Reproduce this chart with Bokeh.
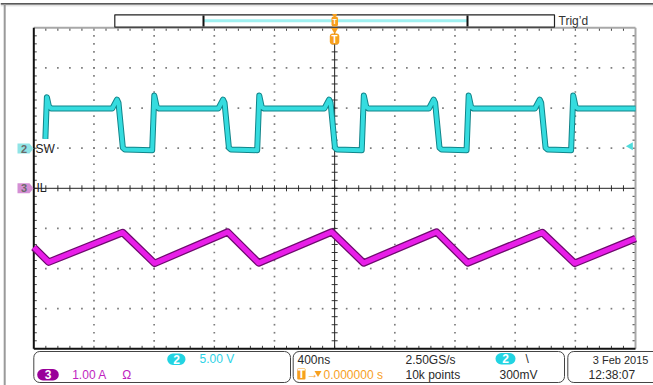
import numpy as np
from bokeh.plotting import figure
from bokeh.models import Range1d
from bokeh.core.properties import value
from bokeh.embed import file_html
from bokeh.resources import INLINE

# ---------------- data ----------------
# Channel 2 "SW" switch-node voltage: vertex times (ns) and volts
SW_T = [-1923, -1913, -1900, -1885,
        -1478, -1447, -1437, -1408, -1395,
        -1213, -1199, -1183, -1168,
        -773, -742, -732, -703, -690,
        -515, -501, -485, -470,
        -68, -37, -27, 2, 15,
        180, 194, 210, 225,
        627, 658, 668, 697, 710,
        877, 891, 907, 922,
        1332, 1363, 1373, 1402, 1415,
        1572, 1586, 1602, 1617,
        2000]
SW_V = [1.2, 6.4, 5.3, 5.0,
        5.0, 6.1, 5.7, 0.1, -0.1,
        -0.2, 6.6, 5.2, 5.0,
        5.0, 6.1, 5.7, 0.1, -0.1,
        -0.2, 6.6, 5.2, 5.0,
        5.0, 6.1, 5.7, 0.1, -0.1,
        -0.2, 6.6, 5.2, 5.0,
        5.0, 6.1, 5.7, 0.1, -0.1,
        -0.2, 6.6, 5.2, 5.0,
        5.0, 6.1, 5.7, 0.1, -0.1,
        -0.2, 6.6, 5.2, 5.0,
        5.0]

# Channel 3 "IL" inductor current: vertex times (ns) and amps
IL_T = [-2000, -1901, -1409, -1197, -711, -505, -20, 193, 678, 884, 1381, 1596, 2000]
IL_A = [-1.47, -1.84, -1.10, -1.87, -1.09, -1.86, -1.09, -1.86, -1.09, -1.86, -1.10, -1.87, -1.25]

# scope settings
TIME_PER_DIV_NS = 400
X_DIVS = 10
Y_DIVS = 8
SW_VOLTS_PER_DIV = 5.0
IL_AMPS_PER_DIV = 1.0
SW_OFFSET_DIV = 0.99
IL_OFFSET_DIV = 0.0
TRIG_LEVEL_V = 0.3

# readout texts
CH2_NAME = "SW"
CH3_NAME = "IL"
CH2_SCALE = "5.00 V"
CH3_SCALE = "1.00 A"
CH3_IMP = "\u03a9"
TIMEBASE = "400ns"
SAMPLE_RATE = "2.50GS/s"
RECORD = "10k points"
TRIG_SLOPE = "\\"
TRIG_LEVEL_TXT = "300mV"
TRIG_POS = "0.000000 s"
DATE_TXT = "3 Feb  2015"
TIME_TXT = "12:38:07"
TRIG_STATE = "Trig\u2019d"

# ---------------- layout ----------------
W, H, OFF = 653, 385, 0
GX0, GX1, GY0, GY1 = 33.3, 635.0, 27.3, 348.3
ns_per_px = X_DIVS * TIME_PER_DIV_NS / (GX1 - GX0)
div_per_px = Y_DIVS / (GY1 - GY0)
cxw = (GX0 + GX1) / 2
cyw = (GY0 + GY1) / 2


def X(xw):
    return (xw - cxw) * ns_per_px


def Y(yw):
    return (cyw - yw) * div_per_px


y0, y1 = Y(OFF + H), Y(OFF)
p = figure(width=W, height=H, x_range=Range1d(X(OFF), X(OFF + W)),
           y_range=Range1d(y0, y1), output_backend="svg", toolbar_location=None,
           x_axis_location=None, y_axis_location=None, min_border=0)
p.grid.visible = False
p.outline_line_color = None
p.background_fill_color = "white"
p.border_fill_color = "white"
p.extra_y_ranges = {
    "sw": Range1d((y0 - SW_OFFSET_DIV) * SW_VOLTS_PER_DIV, (y1 - SW_OFFSET_DIV) * SW_VOLTS_PER_DIV),
    "il": Range1d((y0 - IL_OFFSET_DIV) * IL_AMPS_PER_DIV, (y1 - IL_OFFSET_DIV) * IL_AMPS_PER_DIV),
}

FONT = value("Liberation Sans")
XMAX = X_DIVS / 2 * TIME_PER_DIV_NS
YMAX = Y_DIVS / 2
minor_x = np.arange(-X_DIVS * 5 / 2 + 1, X_DIVS * 5 / 2) * TIME_PER_DIV_NS / 5
minor_y = np.arange(-Y_DIVS * 5 / 2 + 1, Y_DIVS * 5 / 2) / 5

# ---------------- outer screen border ----------------
p.segment(x0=X(0), x1=X(653), y0=Y(3.3), y1=Y(3.3), line_color="#222", line_width=1.2)
p.segment(x0=X(0), x1=X(653), y0=Y(5.3), y1=Y(5.3), line_color="#d6d6d6", line_width=1)
p.segment(x0=X(4.2), x1=X(4.2), y0=Y(3.5), y1=Y(385), line_color="#9a9a9a", line_width=2)

# ---------------- graticule ----------------
dx, dy = [], []
for i in range(-X_DIVS // 2 + 1, X_DIVS // 2):
    if i == 0:
        continue
    dx += [i * TIME_PER_DIV_NS] * len(minor_y)
    dy += list(minor_y)
for j in range(-Y_DIVS // 2 + 1, Y_DIVS // 2):
    if j == 0:
        continue
    dx += list(minor_x)
    dy += [j] * len(minor_x)
p.scatter(dx, dy, marker="square", size=1.7, color="#7d7d7d", line_color=None)

tick = 3
# center cross ticks
p.segment(x0=minor_x, x1=minor_x, y0=-tick * div_per_px, y1=tick * div_per_px, line_color="#333", line_width=1)
p.segment(x0=-tick * ns_per_px, x1=tick * ns_per_px, y0=minor_y, y1=minor_y, line_color="#333", line_width=1)
# edge ticks
p.segment(x0=minor_x, x1=minor_x, y0=YMAX, y1=YMAX - tick * div_per_px, line_color="#444", line_width=1)
p.segment(x0=minor_x, x1=minor_x, y0=-YMAX, y1=-YMAX + tick * div_per_px, line_color="#444", line_width=1)
p.segment(x0=-XMAX, x1=-XMAX + tick * ns_per_px, y0=minor_y, y1=minor_y, line_color="#444", line_width=1)
p.segment(x0=XMAX, x1=XMAX - tick * ns_per_px, y0=minor_y, y1=minor_y, line_color="#444", line_width=1)
# center lines
p.segment(x0=[-XMAX, 0], x1=[XMAX, 0], y0=[0, -YMAX], y1=[0, YMAX], line_color="#222", line_width=1)
# frame
p.segment(x0=[-XMAX, XMAX], x1=[XMAX, XMAX], y0=[YMAX, -YMAX], y1=[YMAX, YMAX], line_color="#a8a8a8", line_width=2)
p.segment(x0=[-XMAX, -XMAX], x1=[-XMAX, XMAX], y0=[-YMAX, -YMAX], y1=[YMAX, -YMAX], line_color="#111", line_width=2)

# ---------------- traces ----------------
p.line(IL_T, IL_A, y_range_name="il", line_color="#6e0a6e", line_width=7.5, line_join="round")
p.line(IL_T, IL_A, y_range_name="il", line_color="#e81ee8", line_width=5, line_join="round")
p.line(SW_T, SW_V, y_range_name="sw", line_color="#11858a", line_width=6, line_join="round")
p.line(SW_T, SW_V, y_range_name="sw", line_color="#35dcdf", line_width=4, line_join="round")

# trigger level marker (right edge)
p.scatter([X(630)], [TRIG_LEVEL_V], y_range_name="sw", marker="triangle", angle=np.pi / 2,
          size=8, color="#4fdcdc", line_color=None)

# ---------------- channel tags (left) ----------------
def tag(yc, fill):
    xs = [X(17), X(29), X(33), X(29), X(17)]
    h = 5 * div_per_px
    ys = [yc + h, yc + h, yc, yc - h, yc - h]
    p.patch(xs, ys, fill_color=fill, line_color=None)

yc2 = SW_OFFSET_DIV
yc3 = IL_OFFSET_DIV
tag(yc2, "#8fe4e6")
tag(yc3, "#d48fd4")
p.text([X(23.5), X(23.5)], [yc2, yc3], ["2", "3"], text_font=FONT, text_font_size=value("11px"),
       text_color="#6a6a6a", text_align="center", text_baseline="middle", text_font_style="bold")
p.text([X(35), X(36)], [yc2, yc3], [CH2_NAME, CH3_NAME], text_font=FONT, text_font_size=value("12px"),
       text_color="#222", text_align="left", text_baseline="middle")

# ---------------- top record bar ----------------
ORANGE = "#f7a01e"
p.quad(left=X(114.3), right=X(554), top=Y(14.3), bottom=Y(26.7), fill_color="white",
       line_color="#222", line_width=1.2)
p.segment(x0=X(203.5), x1=X(466.5), y0=Y(20.3), y1=Y(20.3), line_color="#9ff0f0", line_width=3)
p.segment(x0=[X(203), X(467)], x1=[X(203), X(467)], y0=Y(15), y1=Y(26), line_color="#111", line_width=2)
p.quad(left=X(331), right=X(337.5), top=Y(16), bottom=Y(26), fill_color=ORANGE, line_color=None,
       border_radius=2)
p.scatter([0, 0], [Y(15), Y(29.5)], marker="inverted_triangle", size=[5, 7], color=ORANGE, line_color=None)
p.quad(left=X(329.3), right=X(338.8), top=Y(33), bottom=Y(44), fill_color=ORANGE, line_color=None,
       border_radius=3)
p.text([0, 0], [Y(21), Y(38.7)], ["T", "T"], text_font=FONT, text_font_size=["7px", "10px"],
       text_color="white", text_align="center", text_baseline="middle", text_font_style="bold")
p.text([X(558)], [Y(20)], [TRIG_STATE], text_font=FONT, text_font_size=value("12px"),
       text_color="#333", text_align="left", text_baseline="middle")

# ---------------- bottom readout boxes ----------------
p.quad(left=[X(33.3), X(292.7), X(567.3)], right=[X(290), X(564), X(700)],
       top=Y(351), bottom=Y(382), fill_color="white", line_color="#444", line_width=1, border_radius=6)
CYAN_B = "#22d4e2"
PURPLE_B = "#990099"
p.quad(left=[X(166.7), X(495), X(36.7)], right=[X(185), X(515), X(58.3)],
       top=[Y(353), Y(352.5), Y(368.5)], bottom=[Y(364.5), Y(364), Y(380)],
       fill_color=[CYAN_B, CYAN_B, PURPLE_B], line_color=None, border_radius=6)
p.quad(left=X(296.7), right=X(305), top=Y(368), bottom=Y(379), fill_color=ORANGE, line_color=None,
       border_radius=1)
p.text([X(176), X(505), X(47.5), X(301)], [Y(358.8), Y(358.3), Y(374.2), Y(373.5)], ["2", "2", "3", "T"],
       text_font=FONT, text_font_size=value("12px"), text_color="white", text_align="center",
       text_baseline="middle", text_font_style="bold")

TS = value("12px")
p.text([X(199)], [Y(358.5)], [CH2_SCALE], text_font=FONT, text_font_size=TS, text_color="#2cd2e6",
       text_baseline="middle")
p.text([X(71.7), X(121.7)], [Y(374), Y(374)], [CH3_SCALE, CH3_IMP], text_font=FONT, text_font_size=TS,
       text_color="#c01fc0", text_baseline="middle")
p.text([X(306)], [Y(373.5)], ["\u2192"], text_font=FONT, text_font_size=TS,
       text_color=ORANGE, text_baseline="middle")
p.scatter([X(317.5)], [Y(372.5)], marker="inverted_triangle", size=7, color=ORANGE, line_color=None)
p.text([X(323)], [Y(374)], [TRIG_POS], text_font=FONT, text_font_size=TS,
       text_color=ORANGE, text_baseline="middle")
p.text([X(297), X(405), X(405), X(525), X(499), X(588)],
       [Y(359), Y(359), Y(374), Y(358), Y(374), Y(374)],
       [TIMEBASE, SAMPLE_RATE, RECORD, TRIG_SLOPE, TRIG_LEVEL_TXT, TIME_TXT],
       text_font=FONT, text_font_size=TS, text_color="#2a2a2a", text_baseline="middle")
p.text([X(651)], [Y(359)], [DATE_TXT], text_font=FONT, text_font_size=value("11px"),
       text_color="#2a2a2a", text_align="right", text_baseline="middle")

open("out.html", "w").write(file_html(p, INLINE))
